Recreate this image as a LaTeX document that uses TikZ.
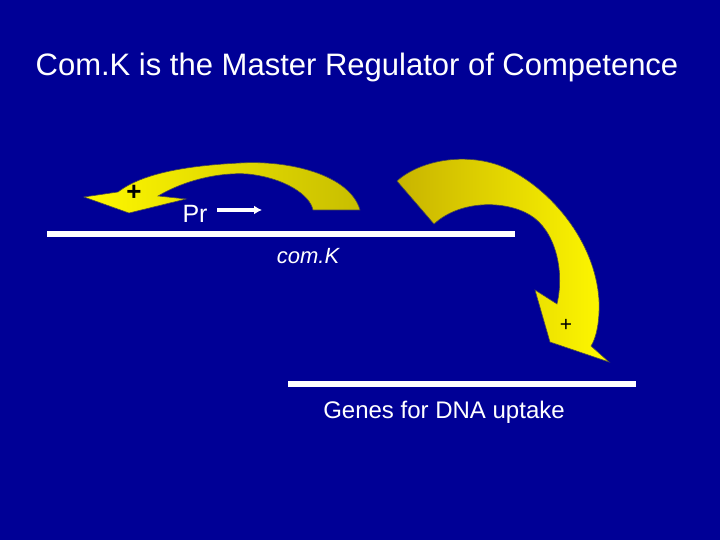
\documentclass[tikz,border=0pt]{standalone}
\usepackage{fontspec}
\setmainfont{Liberation Sans}
\usetikzlibrary{arrows.meta}
\begin{document}
\begin{tikzpicture}[x=1pt,y=-1pt,
  txt/.style={text=white,inner sep=0pt},
  dna/.style={white,line width=6pt},
  curl/.style={draw=black!70,line width=0.6pt}]
\fill[fill={rgb,255:red,0;green,0;blue,150}] (0,0) rectangle (720,540);
\useasboundingbox (0,0) rectangle (720,540);
\node[txt,font=\fontsize{31}{36}\selectfont] (title) at (357,67) {Com.K is the Master Regulator of Competence};
% arrow 1
\path[curl,left color=yellow!95!orange,right color={rgb,255:red,200;green,190;blue,0}]
  (360,210) .. controls (350,175) and (290,160) .. (240,163)
  .. controls (180,166) and (140,175) .. (118,192)
  -- (84,197) -- (129,213) -- (186,199) -- (158,196)
  .. controls (185,180) and (220,172) .. (248,174)
  .. controls (285,178) and (310,195) .. (313,210) -- cycle;
\node[font=\fontsize{26}{28}\selectfont\bfseries,inner sep=0pt] (p1) at (134,193) {+};
% arrow 2
\path[curl,left color={rgb,255:red,200;green,180;blue,0},right color=yellow!95!orange]
  (397,181) .. controls (420,160) and (470,150) .. (510,170)
  .. controls (550,190) and (595,240) .. (599,300)
  .. controls (600,325) and (595,340) .. (591,346)
  -- (609,362) -- (550,342) -- (535,290) -- (557,304)
  .. controls (565,270) and (555,230) .. (530,215)
  .. controls (505,200) and (460,200) .. (434,224) -- cycle;
\node[font=\fontsize{21}{24}\selectfont,inner sep=0pt] (p2) at (566,325) {+};
% DNA
\coordinate (a1) at (47,234); \coordinate (a2) at (515,234);
\draw[dna] (a1) -- (a2);
\coordinate (b1) at (288,384); \coordinate (b2) at (636,384);
\draw[dna] (b1) -- (b2);
\node[txt,font=\fontsize{25}{28}\selectfont] (pr) at (195,214) {Pr};
\coordinate (r1) at (217,210); \coordinate (r2) at (262,210);
\draw[white,line width=3.5pt,-{Latex[length=8pt,width=9pt]}] (r1) -- (r2);
\node[txt,font=\fontsize{22}{26}\selectfont\itshape] (comk) at (308,256) {com.K};
\node[txt,font=\fontsize{24}{28}\selectfont] (genes) at (444,412) {Genes for DNA uptake};
\end{tikzpicture}
\end{document}
